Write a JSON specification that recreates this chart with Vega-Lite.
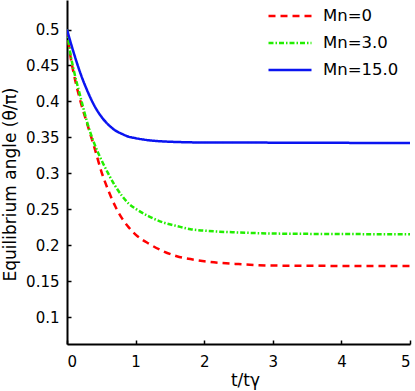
{
  "$schema": "https://vega.github.io/schema/vega-lite/v6.json",
  "width": 343,
  "height": 344,
  "autosize": {"type": "none"},
  "padding": {"left": 67, "top": 0, "right": 5, "bottom": 47},
  "background": "white",
  "config": {
    "view": {"stroke": null},
    "font": "DejaVu Sans",
    "axis": {
      "grid": false,
      "domainColor": "black",
      "domainWidth": 2,
      "tickColor": "black",
      "tickWidth": 1.5,
      "tickSize": -4,
      "labelFont": "DejaVu Sans",
      "labelFontSize": 15,
      "labelColor": "black",
      "titleFont": "DejaVu Sans",
      "titleFontSize": 17,
      "titleFontWeight": "normal",
      "titleColor": "black"
    }
  },
  "data": {
    "values": [
      {"t": 0, "theta": 0.5, "series": "Mn=0"},
      {"t": 0.05, "theta": 0.463, "series": "Mn=0"},
      {"t": 0.1, "theta": 0.438, "series": "Mn=0"},
      {"t": 0.2, "theta": 0.399, "series": "Mn=0"},
      {"t": 0.3, "theta": 0.367, "series": "Mn=0"},
      {"t": 0.4, "theta": 0.336, "series": "Mn=0"},
      {"t": 0.5, "theta": 0.303, "series": "Mn=0"},
      {"t": 0.6, "theta": 0.277, "series": "Mn=0"},
      {"t": 0.7, "theta": 0.255, "series": "Mn=0"},
      {"t": 0.8, "theta": 0.238, "series": "Mn=0"},
      {"t": 0.9, "theta": 0.225, "series": "Mn=0"},
      {"t": 1.0, "theta": 0.215, "series": "Mn=0"},
      {"t": 1.2, "theta": 0.202, "series": "Mn=0"},
      {"t": 1.4, "theta": 0.192, "series": "Mn=0"},
      {"t": 1.6, "theta": 0.185, "series": "Mn=0"},
      {"t": 1.8, "theta": 0.181, "series": "Mn=0"},
      {"t": 2.0, "theta": 0.178, "series": "Mn=0"},
      {"t": 2.5, "theta": 0.174, "series": "Mn=0"},
      {"t": 3.0, "theta": 0.172, "series": "Mn=0"},
      {"t": 4.0, "theta": 0.1715, "series": "Mn=0"},
      {"t": 5.0, "theta": 0.1713, "series": "Mn=0"},
      {"t": 0, "theta": 0.5, "series": "Mn=3.0"},
      {"t": 0.05, "theta": 0.466, "series": "Mn=3.0"},
      {"t": 0.1, "theta": 0.443, "series": "Mn=3.0"},
      {"t": 0.2, "theta": 0.405, "series": "Mn=3.0"},
      {"t": 0.3, "theta": 0.369, "series": "Mn=3.0"},
      {"t": 0.4, "theta": 0.341, "series": "Mn=3.0"},
      {"t": 0.5, "theta": 0.319, "series": "Mn=3.0"},
      {"t": 0.6, "theta": 0.3, "series": "Mn=3.0"},
      {"t": 0.7, "theta": 0.283, "series": "Mn=3.0"},
      {"t": 0.8, "theta": 0.269, "series": "Mn=3.0"},
      {"t": 0.9, "theta": 0.258, "series": "Mn=3.0"},
      {"t": 1.0, "theta": 0.251, "series": "Mn=3.0"},
      {"t": 1.2, "theta": 0.24, "series": "Mn=3.0"},
      {"t": 1.4, "theta": 0.232, "series": "Mn=3.0"},
      {"t": 1.6, "theta": 0.227, "series": "Mn=3.0"},
      {"t": 1.8, "theta": 0.2225, "series": "Mn=3.0"},
      {"t": 2.0, "theta": 0.2205, "series": "Mn=3.0"},
      {"t": 2.5, "theta": 0.218, "series": "Mn=3.0"},
      {"t": 3.0, "theta": 0.2165, "series": "Mn=3.0"},
      {"t": 4.0, "theta": 0.2158, "series": "Mn=3.0"},
      {"t": 5.0, "theta": 0.2155, "series": "Mn=3.0"},
      {"t": 0, "theta": 0.5, "series": "Mn=15.0"},
      {"t": 0.05, "theta": 0.483, "series": "Mn=15.0"},
      {"t": 0.1, "theta": 0.467, "series": "Mn=15.0"},
      {"t": 0.2, "theta": 0.438, "series": "Mn=15.0"},
      {"t": 0.3, "theta": 0.414, "series": "Mn=15.0"},
      {"t": 0.4, "theta": 0.394, "series": "Mn=15.0"},
      {"t": 0.5, "theta": 0.379, "series": "Mn=15.0"},
      {"t": 0.6, "theta": 0.368, "series": "Mn=15.0"},
      {"t": 0.7, "theta": 0.36, "series": "Mn=15.0"},
      {"t": 0.8, "theta": 0.355, "series": "Mn=15.0"},
      {"t": 0.9, "theta": 0.351, "series": "Mn=15.0"},
      {"t": 1.0, "theta": 0.349, "series": "Mn=15.0"},
      {"t": 1.2, "theta": 0.346, "series": "Mn=15.0"},
      {"t": 1.4, "theta": 0.3445, "series": "Mn=15.0"},
      {"t": 1.6, "theta": 0.3437, "series": "Mn=15.0"},
      {"t": 2.0, "theta": 0.343, "series": "Mn=15.0"},
      {"t": 3.0, "theta": 0.3428, "series": "Mn=15.0"},
      {"t": 4.0, "theta": 0.3425, "series": "Mn=15.0"},
      {"t": 5.0, "theta": 0.3423, "series": "Mn=15.0"}
    ]
  },
  "mark": {"type": "line", "strokeWidth": 2.5, "clip": true, "interpolate": "monotone"},
  "encoding": {
    "x": {
      "field": "t",
      "type": "quantitative",
      "scale": {"domain": [0, 5], "nice": false},
      "axis": {"values": [0, 1, 2, 3, 4, 5], "title": "t/tγ", "labelPadding": 14, "titlePadding": 3, "titleX": 178}
    },
    "y": {
      "field": "theta",
      "type": "quantitative",
      "scale": {"domain": [0.063, 0.541], "nice": false, "zero": false},
      "axis": {
        "values": [0.1, 0.15, 0.2, 0.25, 0.3, 0.35, 0.4, 0.45, 0.5],
        "format": "~g",
        "title": "Equilibrium angle (θ/π)",
        "labelPadding": 12,
        "titlePadding": 6,
        "titleY": 184
      }
    },
    "color": {
      "field": "series",
      "type": "nominal",
      "scale": {"domain": ["Mn=0", "Mn=3.0", "Mn=15.0"], "range": ["#ff0000", "#22ee00", "#0a14f0"]},
      "legend": {
        "title": null,
        "orient": "none",
        "legendX": 200,
        "legendY": 6,
        "padding": 0,
        "symbolType": "stroke",
        "symbolSize": 1849,
        "symbolStrokeWidth": 2.5,
        "labelFont": "DejaVu Sans",
        "labelFontSize": 16.5,
        "labelColor": "black",
        "labelOffset": 10,
        "clipHeight": 20,
        "rowPadding": 7
      }
    },
    "strokeDash": {
      "field": "series",
      "type": "nominal",
      "scale": {"domain": ["Mn=0", "Mn=3.0", "Mn=15.0"], "range": [[7, 5], [5, 2, 1.5, 2], [1, 0]]},
      "legend": null
    }
  }
}
